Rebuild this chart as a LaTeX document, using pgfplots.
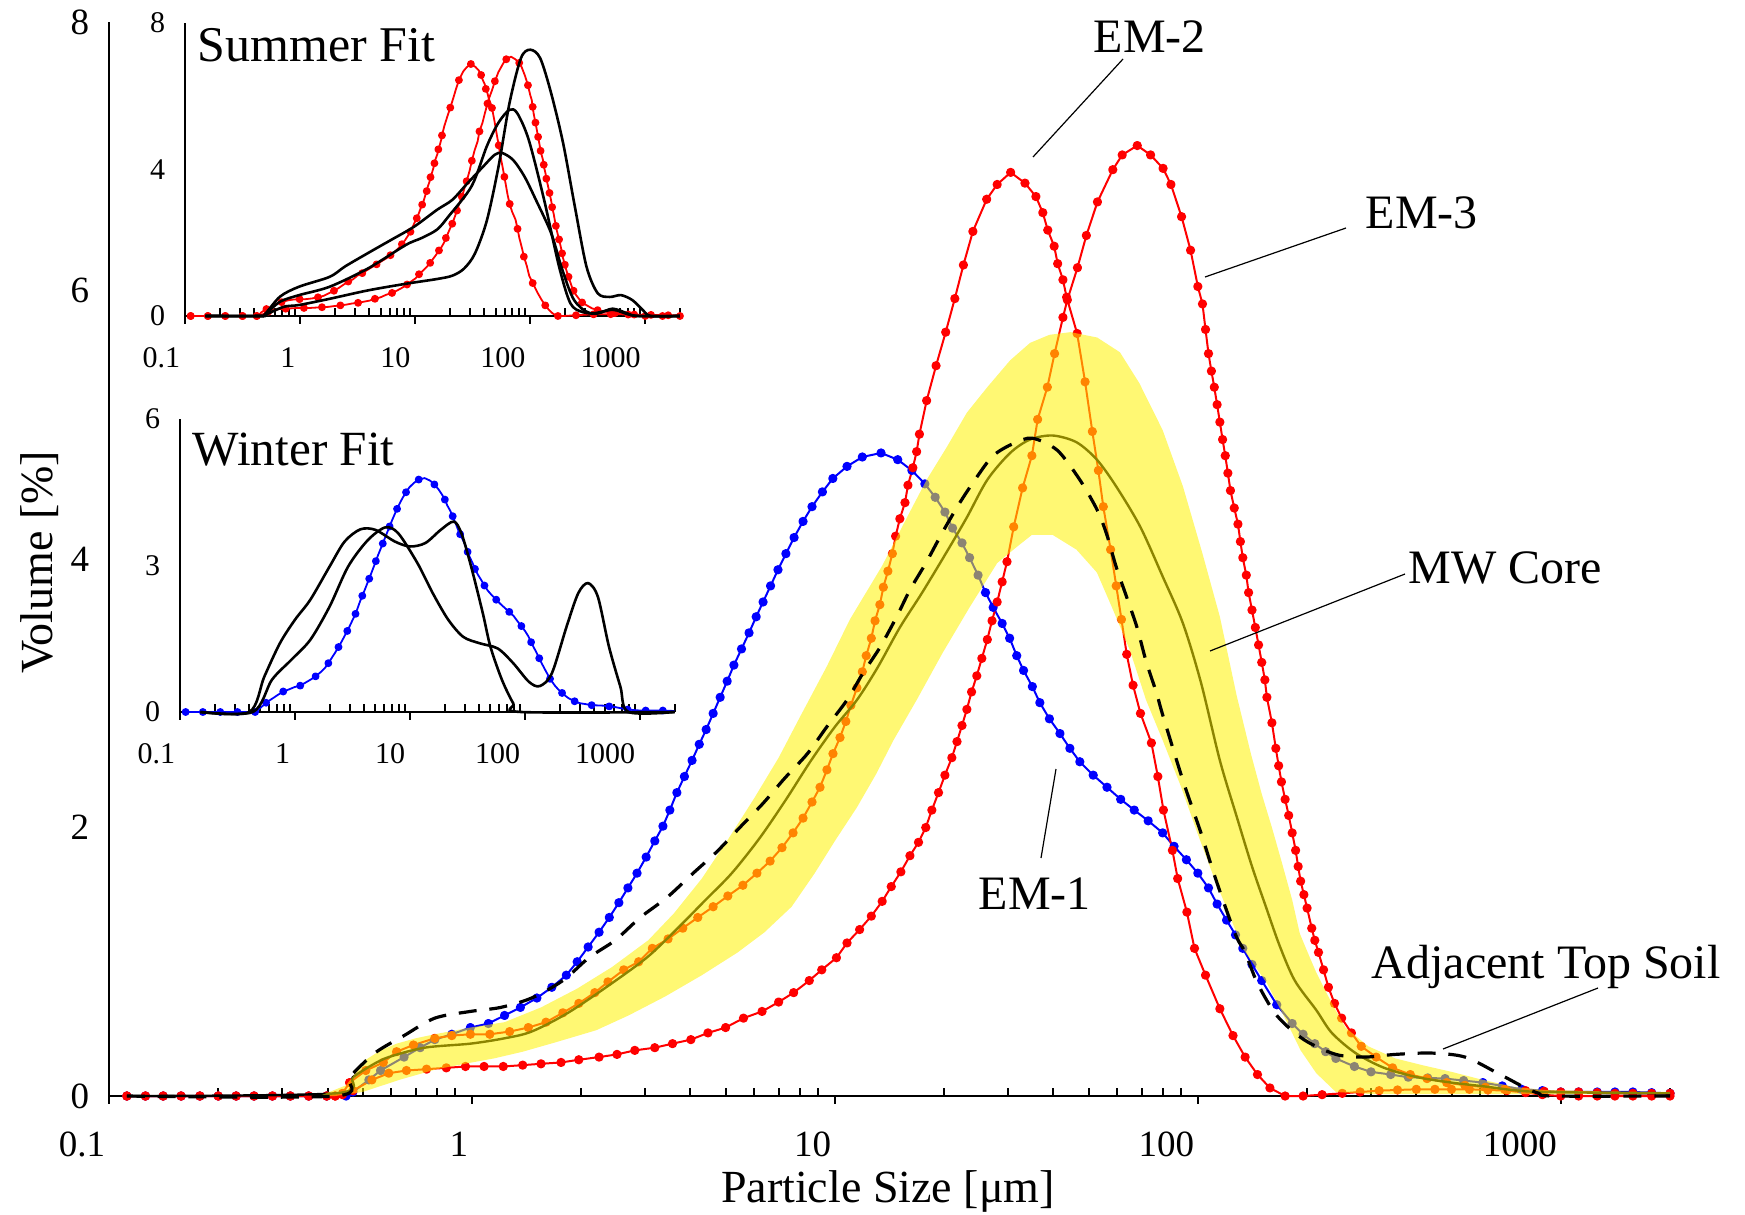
\documentclass[border=0pt]{standalone}
\usepackage{fontspec}
\setmainfont{Liberation Serif}
\usepackage{pgfplots}
\usepackage{pgfplotstable}
\pgfplotsset{compat=1.18}

\pgfplotstableread{
x y
0.112 0
0.126 0
0.141 0
0.158 0
0.178 0
0.2 0
0.224 0
0.251 0
0.282 0
0.316 0
0.355 0
0.398 0
0.45 0
0.47 0.03
0.52 0.12
0.56 0.19
0.65 0.29
0.72 0.36
0.79 0.42
0.88 0.46
0.99 0.51
1.11 0.54
1.23 0.60
1.36 0.66
1.51 0.73
1.66 0.81
1.82 0.90
1.95 1.00
2.09 1.11
2.24 1.22
2.39 1.33
2.54 1.44
2.69 1.55
2.85 1.66
3.02 1.78
3.19 1.90
3.36 2.01
3.51 2.13
3.67 2.26
3.85 2.38
4.04 2.50
4.23 2.62
4.42 2.73
4.62 2.85
4.83 2.97
5.05 3.09
5.27 3.21
5.53 3.33
5.80 3.45
6.07 3.57
6.34 3.68
6.65 3.80
6.97 3.92
7.33 4.04
7.72 4.16
8.17 4.28
8.65 4.39
9.24 4.50
9.87 4.60
10.8 4.69
11.9 4.76
13.4 4.79
14.9 4.74
16.3 4.66
17.7 4.56
18.9 4.46
20.1 4.35
21.1 4.23
22.4 4.12
23.5 4.01
24.8 3.88
26.0 3.75
27.3 3.64
28.9 3.52
30.3 3.41
31.7 3.28
33.1 3.17
35.0 3.05
36.7 2.93
39.0 2.81
41.7 2.70
44.4 2.59
47.3 2.49
51.5 2.39
56.2 2.30
61.3 2.21
66.8 2.13
73 2.05
80 1.96
86 1.86
93 1.76
100 1.66
107 1.55
113 1.43
120 1.31
127 1.20
133 1.10
141 0.98
150 0.86
165 0.68
182 0.54
195 0.46
210 0.39
225 0.33
240 0.28
270 0.22
300 0.18
340 0.16
380 0.14
430 0.135
480 0.13
540 0.115
610 0.10
690 0.075
780 0.05
890 0.04
1000 0.03
1120 0.03
1260 0.03
1410 0.03
1580 0.03
1780 0.025
2000 0.02
}\emone

\pgfplotstableread{
x y
0.112 0
0.126 0
0.141 0
0.158 0
0.178 0
0.2 0
0.224 0
0.251 0
0.282 0
0.316 0
0.355 0
0.398 0
0.42 0
0.44 0.02
0.46 0.10
0.51 0.19
0.57 0.25
0.62 0.33
0.69 0.38
0.79 0.43
0.88 0.45
0.99 0.46
1.12 0.46
1.27 0.48
1.43 0.51
1.60 0.55
1.78 0.62
1.97 0.69
2.18 0.77
2.37 0.85
2.62 0.94
2.88 1.00
3.14 1.10
3.47 1.17
3.81 1.25
4.19 1.33
4.62 1.41
5.07 1.49
5.58 1.57
6.10 1.66
6.63 1.75
7.15 1.85
7.67 1.96
8.17 2.07
8.65 2.19
9.10 2.30
9.51 2.43
9.88 2.55
10.33 2.67
10.72 2.79
11.07 2.91
11.5 3.04
11.9 3.16
12.2 3.28
12.6 3.41
12.9 3.54
13.3 3.66
13.6 3.79
14.0 3.91
14.4 4.04
14.7 4.17
15.1 4.30
15.6 4.42
15.9 4.55
16.4 4.68
16.8 4.80
17.1 4.93
17.9 5.18
19.0 5.44
20.2 5.69
21.4 5.94
22.6 6.19
24.0 6.44
26.2 6.68
28.0 6.79
30.5 6.88
33.4 6.80
35.8 6.70
37.4 6.58
38.6 6.45
40.2 6.33
41.1 6.20
42.5 6.08
43.5 5.95
46.5 5.68
48.9 5.32
51.2 4.95
53.2 4.66
54.9 4.39
57.5 4.07
59.6 3.80
61.6 3.55
63.7 3.29
66.3 3.06
69.5 2.85
74.5 2.63
77.6 2.38
80.4 2.13
85.1 1.83
88 1.62
93.3 1.37
97.9 1.10
105 0.90
115 0.65
125 0.45
135 0.29
146 0.16
158 0.06
174 0.0
195 0.0
220 0.01
250 0.02
280 0.03
316 0.04
355 0.045
400 0.05
450 0.05
500 0.05
560 0.05
630 0.045
710 0.04
800 0.025
890 0.01
1000 0
1120 0
1260 0
1410 0
1580 0
1780 0
2000 0
}\emtwo

\pgfplotstableread{
x y
0.112 0
0.126 0
0.141 0
0.158 0
0.178 0
0.2 0
0.224 0
0.251 0
0.282 0
0.316 0
0.355 0
0.398 0
0.42 0
0.44 0.01
0.47 0.04
0.53 0.12
0.59 0.17
0.66 0.19
0.75 0.20
0.85 0.21
0.96 0.22
1.08 0.22
1.22 0.22
1.38 0.23
1.55 0.24
1.76 0.25
1.97 0.27
2.24 0.29
2.51 0.31
2.81 0.34
3.19 0.36
3.57 0.39
4.01 0.42
4.47 0.47
5.0 0.51
5.6 0.58
6.3 0.63
7.0 0.70
7.7 0.77
8.5 0.86
9.2 0.94
10.1 1.03
10.8 1.14
11.7 1.24
12.6 1.34
13.5 1.45
14.3 1.56
15.2 1.67
16.1 1.79
17.0 1.89
17.8 2.00
18.5 2.13
19.3 2.26
20.1 2.39
21.0 2.52
21.7 2.64
22.4 2.76
23.1 2.88
23.8 3.01
24.6 3.13
25.4 3.26
26.3 3.40
27.1 3.54
28.0 3.68
28.9 3.83
29.8 3.98
31.1 4.24
32.9 4.53
34.9 4.77
36.2 5.04
38.5 5.28
40.3 5.53
42.5 5.80
43.7 5.93
46.6 6.17
49.3 6.41
52.9 6.66
58.3 6.90
61.9 7.01
68.1 7.08
74.1 7.01
80.2 6.91
84.3 6.79
90.2 6.55
95.5 6.30
100 6.03
103 5.90
105 5.71
107 5.53
109 5.40
111 5.28
113 5.15
115 5.02
117 4.89
119 4.77
121 4.64
123 4.51
126 4.38
129 4.26
131 4.13
133 4.01
136 3.88
138 3.75
141 3.62
144 3.49
147 3.36
150 3.23
153 3.10
155 2.97
160 2.78
164 2.59
167 2.46
170 2.34
174 2.21
178 2.09
182 1.96
186 1.83
189 1.71
192 1.60
196 1.50
200 1.40
206 1.25
210 1.16
215 1.07
222 0.94
229 0.81
238 0.69
249 0.58
265 0.47
282 0.37
310 0.29
344 0.21
385 0.16
428 0.13
485 0.10
544 0.08
620 0.065
700 0.05
800 0.04
900 0.035
1000 0.03
1120 0.03
1260 0.025
1410 0.02
1580 0.02
1780 0.02
2000 0.02
}\emthree

\pgfplotstableread{
x y
0.112 0
0.42 0.02
0.47 0.14
0.53 0.23
0.59 0.29
0.74 0.36
0.99 0.39
1.23 0.43
1.46 0.48
1.84 0.62
2.43 0.84
3.06 1.04
3.72 1.26
4.4 1.46
5.2 1.66
6.2 1.92
7.3 2.2
8.6 2.5
10.0 2.75
11.5 2.95
13.1 3.19
15.1 3.49
17.4 3.75
20.3 4.05
23.1 4.31
26.3 4.59
30.4 4.79
34.5 4.89
39.8 4.92
46.3 4.87
52.7 4.74
59.6 4.54
69.4 4.24
80 3.87
91 3.52
102 3.08
115 2.50
128 2.08
141 1.71
154 1.41
168 1.12
185 0.86
212 0.64
234 0.47
272 0.32
326 0.21
403 0.14
500 0.10
622 0.07
735 0.045
900 0.03
2000 0.02
}\core

\pgfplotstableread{
x y
0.38 0
0.45 0.08
0.51 0.27
0.56 0.34
0.62 0.39
0.70 0.43
0.79 0.46
0.99 0.51
1.23 0.55
1.55 0.66
1.95 0.80
2.43 0.96
3.06 1.16
3.6 1.36
4.3 1.62
5.1 1.92
6.0 2.22
7.0 2.52
8.0 2.82
9.5 3.2
11.0 3.55
12.0 3.72
13.5 3.95
15.8 4.31
17.9 4.59
20.3 4.83
23.1 5.09
26.3 5.28
30.4 5.48
34.5 5.61
39 5.67
44.6 5.69
52.8 5.65
61 5.54
69 5.31
80 4.96
91 4.54
103 4.04
115 3.57
128 2.98
140 2.55
150 2.25
160 2.00
170 1.75
182 1.46
191 1.21
200 1.08
212 0.92
234 0.69
255 0.51
295 0.37
350 0.28
415 0.23
500 0.18
590 0.13
735 0.07
900 0.045
1300 0.035
2000 0.03
2000 0.015
1000 0.015
300 0.015
240 0.03
212 0.17
192 0.34
173 0.59
155 0.84
133 1.10
120 1.40
110 1.65
100 1.95
90 2.30
80 2.65
72 2.95
65 3.32
58 3.64
52.7 3.90
46.3 4.07
39.8 4.18
34.9 4.18
31.7 4.09
28 3.97
23.5 3.64
19.8 3.30
16.8 2.95
14.5 2.65
13 2.40
11.5 2.15
10 1.90
8.8 1.66
7.6 1.41
6.4 1.22
5.4 1.07
4.3 0.90
3.4 0.74
2.7 0.60
2.2 0.49
1.7 0.40
1.38 0.33
1.15 0.28
1.0 0.25
0.8 0.20
0.63 0.12
0.5 0.03
0.42 0.0
}\band

\pgfplotstableread{
x y
0.112 0
0.42 0
0.46 0.14
0.54 0.32
0.65 0.45
0.79 0.58
0.99 0.63
1.2 0.66
1.46 0.73
1.78 0.86
2.1 1.03
2.48 1.16
2.91 1.33
3.45 1.48
4.07 1.66
4.73 1.82
5.47 2.00
6.34 2.18
7.29 2.37
8.4 2.55
9.5 2.75
10.8 2.95
11.95 3.15
13.3 3.34
14.8 3.57
16.1 3.77
17.9 3.98
19.8 4.20
22.1 4.42
24.6 4.61
27.3 4.77
31 4.86
35 4.90
41 4.81
47.3 4.59
52.7 4.37
56 4.19
59.6 3.94
63.6 3.72
68 3.49
72 3.24
77 3.00
80 2.84
91 2.35
102 1.96
110 1.68
119 1.41
128 1.18
135 1.07
146 0.84
165 0.60
196 0.42
240 0.31
288 0.29
350 0.31
440 0.32
545 0.29
670 0.17
800 0.06
870 0.02
950 0
2000 0
}\soil

\pgfplotstableread{
x y
0.15 0
0.45 0
0.49 0.03
0.67 0.53
0.98 0.80
1.81 1.07
2.45 1.35
3.9 1.72
6.2 2.08
9.8 2.44
15.5 2.90
21 3.17
28.6 3.63
39 4.08
49 4.40
57 4.45
71 4.26
89 3.81
112 3.17
152 2.26
190 1.26
240 0.44
330 0.08
520 0.17
700 0.05
900 0
2000 0
}\sa

\pgfplotstableread{
x y
0.15 0
0.45 0
0.49 0.03
0.67 0.39
0.98 0.57
1.81 0.80
3.9 1.30
8.3 1.94
11.4 2.13
15.5 2.36
19.5 2.72
31 3.55
42 4.64
53 5.28
66 5.63
77 5.54
97 4.81
132 3.17
178 1.35
223 0.35
283 0.11
386 0.07
520 0.20
700 0.07
850 0
2000 0
}\sb

\pgfplotstableread{
x y
0.15 0
0.46 0
0.49 0.02
0.72 0.25
0.98 0.30
1.81 0.47
3.9 0.70
8.3 0.88
15.5 1.01
21 1.10
26.5 1.29
33 1.70
42 2.61
53 4.08
66 5.81
83 7.04
100 7.27
122 7.04
152 6.08
193 4.72
244 2.99
308 1.35
386 0.62
490 0.52
615 0.57
775 0.43
960 0.15
1120 0
2000 0
}\scc

\pgfplotstableread{
x y
0.15 0
0.40 0
0.54 0.72
0.74 1.41
1.0 1.89
1.36 2.30
2.0 2.98
2.7 3.49
3.7 3.74
5.0 3.73
7.4 3.49
10 3.39
13.6 3.46
18.5 3.73
24 3.90
28 3.66
34 2.98
43 2.02
50 1.34
63 0.66
79 0.18
93 0
2000 0
}\wa

\pgfplotstableread{
x y
0.15 0
0.43 0
0.63 0.66
0.93 1.07
1.36 1.48
2.0 2.16
2.9 2.98
4.3 3.52
6.1 3.78
7.9 3.66
11.6 3.05
15.8 2.43
21.5 1.89
29 1.54
40 1.41
58 1.30
79 1.00
108 0.62
134 0.53
171 0.79
230 1.75
290 2.43
353 2.64
430 2.36
537 1.34
675 0.52
795 0
2000 0
}\wb

\begin{document}
\begin{tikzpicture}
\path[use as bounding box] (0,0) rectangle (436.25pt,303.5pt);

% main axis: end-member curves with their markers
\begin{axis}[scale only axis, anchor=south west, clip=false,
  xmode=log, xmin=0.1, xmax=2000, ymin=0, ymax=8,
  at={(27.25pt,29.5pt)}, width=390.25pt, height=268.5pt,
  axis x line=bottom, axis y line=left,
  axis line style={-, line width=0.5pt, black},
  xtick={0.1,1,10,100,1000}, xticklabels={0.1,1,10,100,1000},
  minor xtick={0.2,0.3,0.4,0.5,0.6,0.7,0.8,0.9,2,3,4,5,6,7,8,9,20,30,40,50,60,70,80,90,200,300,400,500,600,700,800,900,2000},
  xtick align=inside, ytick align=inside,
  major tick length=1.9pt, minor tick length=1.9pt,
  major x tick style={yshift=-1.9pt, line width=0.5pt, black},
  minor x tick style={line width=0.5pt, black},
  ytick style={draw=none},
  ytick={0,2,4,6,8}, yticklabels={0,2,4,6,8},
  yticklabel style={anchor=east, inner sep=0pt, xshift=-4.75pt},
  xticklabel style={anchor=north east, inner sep=0pt, yshift=-8.75pt, xshift=-0.75pt},
  tick label style={font=\fontsize{9.25}{11}\selectfont},
  xlabel={Particle Size [μm]}, ylabel={Volume [\%]},
  x label style={at={(axis description cs:0.499,-0.0987)}, anchor=base, font=\fontsize{11.5}{13}\selectfont},
  y label style={at={(axis description cs:-0.0359,0.497)}, anchor=base, font=\fontsize{11.5}{13}\selectfont},
]
\addplot[blue, line width=0.5pt, line join=round, mark=*, mark size=0.9pt, mark options={draw=none, fill=blue}] table {\emone};
\addplot[red, line width=0.5pt, line join=round, mark=*, mark size=0.9pt, mark options={draw=none, fill=red}] table {\emtwo};
\addplot[red, line width=0.5pt, line join=round, mark=*, mark size=0.9pt, mark options={draw=none, fill=red}] table {\emthree};
\end{axis}

% overlay axis (same geometry): core mean, translucent band on top, soil
\begin{axis}[scale only axis, anchor=south west, clip=false, hide axis,
  xmode=log, xmin=0.1, xmax=2000, ymin=0, ymax=8,
  at={(27.25pt,29.5pt)}, width=390.25pt, height=268.5pt]
\addplot[black, line width=0.6pt, smooth] table {\core};
\addplot[draw=none, fill=yellow, fill opacity=0.55] table {\band};
\addplot[black, line width=0.8pt, dash pattern=on 4.5pt off 3.2pt, smooth] table {\soil};
\end{axis}

% summer inset
\begin{axis}[scale only axis, anchor=south west, clip=false,
  xmode=log, xmin=0.1, xmax=2000, ymin=0, ymax=8,
  at={(46.25pt,224.5pt)}, width=123.75pt, height=73.25pt,
  axis x line=bottom, axis y line=left,
  axis line style={-, line width=0.5pt, black},
  xtick={0.1,1,10,100,1000}, xticklabels={0.1,1,10,100,1000},
  minor xtick={0.2,0.3,0.4,0.5,0.6,0.7,0.8,0.9,2,3,4,5,6,7,8,9,20,30,40,50,60,70,80,90,200,300,400,500,600,700,800,900,2000},
  xtick align=inside, ytick align=inside,
  major tick length=1.9pt, minor tick length=1.9pt,
  major x tick style={yshift=-1.9pt, line width=0.5pt, black},
  minor x tick style={line width=0.5pt, black},
  ytick style={draw=none},
  ytick={0,4,8}, yticklabels={0,4,8},
  yticklabel style={anchor=east, inner sep=0pt, xshift=-4.75pt},
  xticklabel style={anchor=north east, inner sep=0pt, yshift=-7.6pt, xshift=-1pt},
  tick label style={font=\fontsize{7.5}{9}\selectfont},
]
\addplot[red, line width=0.45pt, line join=round, mark=*, mark size=0.75pt, mark repeat=3, mark options={draw=none, fill=red}] table {\emtwo};
\addplot[red, line width=0.45pt, line join=round, mark=*, mark size=0.75pt, mark repeat=3, mark options={draw=none, fill=red}] table {\emthree};
\end{axis}
\begin{axis}[scale only axis, anchor=south west, clip=false, hide axis,
  xmode=log, xmin=0.1, xmax=2000, ymin=0, ymax=8,
  at={(46.25pt,224.5pt)}, width=123.75pt, height=73.25pt]
\addplot[black, line width=0.65pt, smooth] table {\sa};
\addplot[black, line width=0.65pt, smooth] table {\sb};
\addplot[black, line width=0.65pt, smooth] table {\scc};
\end{axis}

% winter inset
\begin{axis}[scale only axis, anchor=south west, clip=false,
  xmode=log, xmin=0.1, xmax=2000, ymin=0, ymax=6,
  at={(45pt,125.5pt)}, width=123.65pt, height=73.25pt,
  axis x line=bottom, axis y line=left,
  axis line style={-, line width=0.5pt, black},
  xtick={0.1,1,10,100,1000}, xticklabels={0.1,1,10,100,1000},
  minor xtick={0.2,0.3,0.4,0.5,0.6,0.7,0.8,0.9,2,3,4,5,6,7,8,9,20,30,40,50,60,70,80,90,200,300,400,500,600,700,800,900,2000},
  xtick align=inside, ytick align=inside,
  major tick length=1.9pt, minor tick length=1.9pt,
  major x tick style={yshift=-1.9pt, line width=0.5pt, black},
  minor x tick style={line width=0.5pt, black},
  ytick style={draw=none},
  ytick={0,3,6}, yticklabels={0,3,6},
  yticklabel style={anchor=east, inner sep=0pt, xshift=-4.75pt},
  xticklabel style={anchor=north east, inner sep=0pt, yshift=-7.6pt, xshift=-1pt},
  tick label style={font=\fontsize{7.5}{9}\selectfont},
]
\addplot[blue, line width=0.45pt, line join=round, mark=*, mark size=0.75pt, mark repeat=3, mark options={draw=none, fill=blue}] table {\emone};
\end{axis}
\begin{axis}[scale only axis, anchor=south west, clip=false, hide axis,
  xmode=log, xmin=0.1, xmax=2000, ymin=0, ymax=6,
  at={(45pt,125.5pt)}, width=123.65pt, height=73.25pt]
\addplot[black, line width=0.65pt, smooth] table {\wa};
\addplot[black, line width=0.65pt, smooth] table {\wb};
\end{axis}

% annotations
\begin{scope}[every node/.style={anchor=base west, inner sep=0pt, font=\fontsize{12}{14}\selectfont}]
\node at (273.25pt,290.5pt) {EM-2};
\node at (341.25pt,246.5pt) {EM-3};
\node at (352pt,157.75pt) {MW Core};
\node at (244.5pt,76.25pt) {EM-1};
\node at (342.75pt,59pt) {Adjacent Top Soil};
\node[font=\fontsize{12.5}{14}\selectfont] at (49.2pt,288pt) {Summer Fit};
\node[font=\fontsize{12.3}{14}\selectfont] at (48pt,187.25pt) {Winter Fit};
\end{scope}
\draw[line width=0.3pt] (280.75pt,288.75pt) -- (258.25pt,264.25pt);
\draw[line width=0.3pt] (336.5pt,246.5pt) -- (301.25pt,234.25pt);
\draw[line width=0.3pt] (351.25pt,160pt) -- (302.5pt,140.75pt);
\draw[line width=0.3pt] (260.25pt,89pt) -- (264pt,111.25pt);
\draw[line width=0.3pt] (399.5pt,56.5pt) -- (360.75pt,41.25pt);
\end{tikzpicture}
\end{document}
